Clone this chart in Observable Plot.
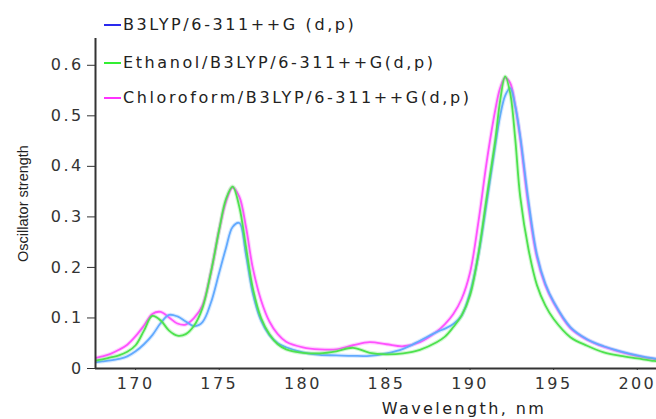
<!DOCTYPE html>
<html>
<head>
<meta charset="utf-8">
<script src="https://cdn.jsdelivr.net/npm/d3@7"></script>
<script src="https://cdn.jsdelivr.net/npm/@observablehq/plot@0.6"></script>
<style>
  body { margin: 0; background: #fff; }
  #wrap { position: relative; width: 656px; height: 419px; }
  .legend { position: absolute; left: 104px; font-family: "DejaVu Sans", sans-serif; font-size: 16px; letter-spacing: 2.6px; color: #222; display: flex; align-items: center; height: 20px; line-height: 20px; white-space: nowrap; }
  .legend .sw { display: inline-block; width: 17px; height: 2px; margin-right: 2px; }
</style>
</head>
<body>
<div id="wrap"></div>
<script>
// Wavelength grid (nm)
const wavelength = [167.5,168,168.5,169,169.5,170,170.5,171,171.5,172,172.5,173,173.5,174,174.5,175,175.4,175.8,176.2,176.6,177,177.5,178,178.5,179,180,181,182,183,184,185,186,187,188,188.5,189,189.5,190,190.5,191,191.5,191.8,192.1,192.4,192.7,193,193.5,194,194.5,195,196,197,198,199,200,201,201.5];

// Series values (oscillator strength)
const b3lyp = [0.012,0.014,0.016,0.019,0.024,0.034,0.048,0.066,0.09,0.106,0.103,0.093,0.084,0.092,0.13,0.19,0.238,0.28,0.288,0.225,0.15,0.095,0.066,0.05,0.042,0.032,0.027,0.026,0.025,0.025,0.03,0.039,0.055,0.072,0.079,0.088,0.105,0.15,0.225,0.33,0.44,0.50,0.54,0.555,0.52,0.46,0.33,0.225,0.168,0.132,0.082,0.058,0.044,0.034,0.026,0.02,0.018];
const ethanol = [0.015,0.018,0.022,0.026,0.033,0.046,0.075,0.104,0.095,0.075,0.065,0.068,0.085,0.12,0.19,0.275,0.335,0.36,0.32,0.24,0.16,0.1,0.068,0.048,0.038,0.031,0.03,0.034,0.041,0.031,0.028,0.03,0.037,0.052,0.063,0.082,0.105,0.145,0.227,0.34,0.45,0.53,0.578,0.545,0.455,0.34,0.235,0.165,0.125,0.098,0.062,0.045,0.032,0.025,0.02,0.015,0.014];
const chloroform = [0.02,0.024,0.029,0.037,0.047,0.064,0.085,0.108,0.112,0.101,0.089,0.087,0.1,0.125,0.19,0.275,0.33,0.358,0.34,0.28,0.2,0.135,0.093,0.068,0.053,0.042,0.038,0.038,0.046,0.052,0.048,0.044,0.052,0.073,0.088,0.108,0.138,0.19,0.29,0.41,0.51,0.555,0.575,0.565,0.52,0.455,0.32,0.22,0.165,0.13,0.08,0.057,0.043,0.033,0.025,0.019,0.017];

const seriesNames = ["B3LYP/6-311++G (d,p)", "Ethanol/B3LYP/6-311++G(d,p)", "Chloroform/B3LYP/6-311++G(d,p)"];
const lineColors = ["#62aaff", "#4ee24e", "#ff52ff"];
const legendColors = ["#2a2aee", "#33ee33", "#ff33ff"];

const xTicks = [170,175,180,185,190,195,200];
const yTicks = [0,0.1,0.2,0.3,0.4,0.5,0.6];
const xDomain = [167.6, 201.15];
const yDomain = [0, 0.653];
const yLabel = "Oscillator strength";
const xLabel = "Wavelength, nm";

const rows = [];
[b3lyp, ethanol, chloroform].forEach((vals, s) => {
  vals.forEach((v, i) => rows.push({series: seriesNames[s], wl: wavelength[i], v}));
});
const drawOrder = [seriesNames[2], seriesNames[0], seriesNames[1]];

const marks = [];
drawOrder.forEach(name => {
  const c = lineColors[seriesNames.indexOf(name)];
  const data = rows.filter(r => r.series === name);
  marks.push(Plot.line(data, {x: "wl", y: "v", stroke: c, strokeWidth: 4, strokeOpacity: 0.25, curve: "catmull-rom", clip: true}));
  marks.push(Plot.line(data, {x: "wl", y: "v", stroke: c, strokeWidth: 1.8, curve: "catmull-rom", clip: true}));
});

const chart = Plot.plot({
  width: 656,
  height: 419,
  marginLeft: 95,
  marginRight: 0,
  marginTop: 38,
  marginBottom: 51,
  style: {fontFamily: "DejaVu Sans, sans-serif", fontSize: "16px", color: "#333", background: "#fff"},
  x: {domain: xDomain, ticks: xTicks, tickSize: 2, tickPadding: 7, label: null, tickFormat: d => String(d)},
  y: {domain: yDomain, ticks: yTicks, tickSize: 8, tickPadding: 4, label: null, tickFormat: d => d === 0 ? "0" : d.toFixed(1)},
  marks: [
    ...marks,
    Plot.ruleY([yDomain[0]], {stroke: "#333", strokeWidth: 2}),
    Plot.ruleX([xDomain[0]], {stroke: "#333", strokeWidth: 2}),
    Plot.text([yLabel], {text: d => d, frameAnchor: "left", textAnchor: "middle", rotate: -90, dx: -72, fontFamily: "Liberation Sans, Arial, sans-serif", fontSize: 14.5, fill: "#222"}),
    Plot.text([xLabel], {text: d => d, frameAnchor: "bottom", dx: 88, dy: 45, lineAnchor: "bottom", fill: "#222"})
  ]
});

document.getElementById("wrap").appendChild(chart);
d3.select(chart).selectAll("text").each(function() {
  const t = d3.select(this);
  if (t.text() === yLabel) {
    t.style("letter-spacing", "0px").style("font-family", "'Liberation Sans', Arial, sans-serif").style("font-size", "14.5px");
  } else {
    t.style("letter-spacing", "2.4px");
  }
});

const legendY = [25, 63, 98];
seriesNames.forEach((name, i) => {
  const div = document.createElement("div");
  div.className = "legend";
  div.style.top = (legendY[i] - 10) + "px";
  const sw = document.createElement("span");
  sw.className = "sw";
  sw.style.background = legendColors[i];
  div.appendChild(sw);
  div.appendChild(document.createTextNode(name));
  document.getElementById("wrap").appendChild(div);
});
</script>
</body>
</html>
